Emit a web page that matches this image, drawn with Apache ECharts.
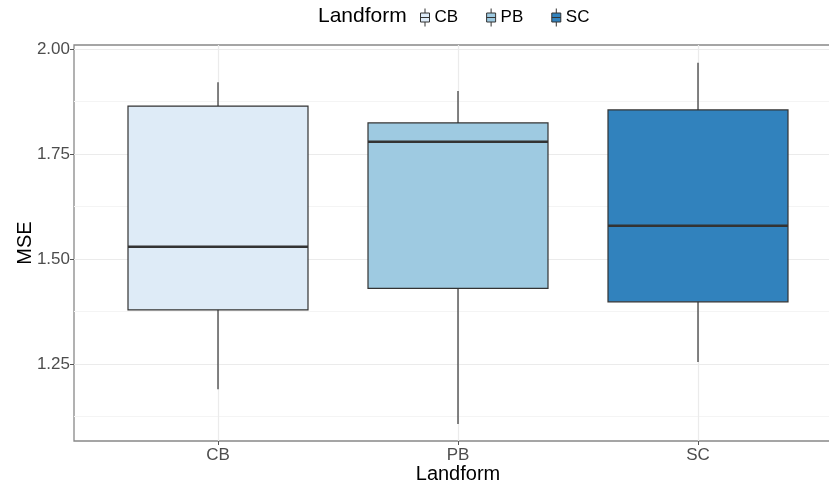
<!DOCTYPE html>
<html>
<head>
<meta charset="utf-8">
<script src="https://cdn.jsdelivr.net/npm/echarts@6/dist/echarts.min.js"></script>
<style>html,body{margin:0;padding:0;background:#fff}#c{width:829px;height:487px}</style>
</head>
<body>
<div id="c"></div>
<script>
const categories = ['CB', 'PB', 'SC'];
const whiskerLow = [1.190, 1.107, 1.255];
const q1Values = [1.379, 1.430, 1.398];
const medians = [1.529, 1.779, 1.579];
const q3Values = [1.864, 1.824, 1.855];
const whiskerHigh = [1.921, 1.900, 1.967];
const fills = ['#deebf7', '#9ecae1', '#3182bd'];
const yTicks = [1.25, 1.5, 1.75, 2.0];
const yMinorTicks = [1.125, 1.375, 1.625, 1.875];

const chart = echarts.init(document.getElementById('c'));
const STROKE = '#333333';

function renderBox(params, api) {
  const x = api.value(0);
  const lo = api.coord([x, api.value(1)]);
  const q1 = api.coord([x, api.value(2)]);
  const med = api.coord([x, api.value(3)]);
  const q3 = api.coord([x, api.value(4)]);
  const hi = api.coord([x, api.value(5)]);
  const half = api.size([0.75, 0])[0] / 2;
  const fill = api.visual('color');
  return {
    type: 'group',
    children: [
      {type: 'line', shape: {x1: lo[0], y1: lo[1], x2: q1[0], y2: q1[1]}, style: {stroke: STROKE, lineWidth: 1.2}},
      {type: 'line', shape: {x1: hi[0], y1: hi[1], x2: q3[0], y2: q3[1]}, style: {stroke: STROKE, lineWidth: 1.2}},
      {type: 'rect', shape: {x: q3[0] - half, y: q3[1], width: half * 2, height: q1[1] - q3[1]}, style: {fill: fill, stroke: STROKE, lineWidth: 1.2}},
      {type: 'line', shape: {x1: med[0] - half, y1: med[1], x2: med[0] + half, y2: med[1]}, style: {stroke: STROKE, lineWidth: 2.6}}
    ]
  };
}

const series = categories.map((c, i) => ({
  name: c,
  type: 'custom',
  renderItem: renderBox,
  clip: false,
  encode: {x: 0, y: [1, 2, 3, 4, 5]},
  itemStyle: {color: fills[i], borderColor: STROKE, borderWidth: 1},
  data: [[i + 1, whiskerLow[i], q1Values[i], medians[i], q3Values[i], whiskerHigh[i]]]
}));

const labelStyle = {color: '#4d4d4d', fontSize: 17, fontFamily: 'Liberation Sans, Arial, sans-serif'};

chart.setOption({
  animation: false,
  backgroundColor: '#ffffff',
  title: {
    text: 'Landform', left: 318, top: 6, padding: 0,
    textStyle: {fontSize: 21, fontWeight: 'normal', color: '#000', fontFamily: 'Liberation Sans, Arial, sans-serif'}
  },
  legend: {
    data: categories, left: 420, top: 8, padding: 0, itemGap: 28,
    itemWidth: 9, itemHeight: 18, symbolKeepAspect: false,
    icon: 'path://M5,0L5,4M0,4L10,4L10,12L0,12ZM0,8L10,8M5,12L5,16',
    itemStyle: {borderColor: STROKE, borderWidth: 1},
    textStyle: {fontSize: 17, color: '#000', fontFamily: 'Liberation Sans, Arial, sans-serif'}
  },
  grid: {left: 74, top: 45, width: 768, height: 396, containLabel: false, outerBoundsMode: 'none',
    show: true, borderColor: '#888', borderWidth: 1.3, backgroundColor: 'transparent'},
  xAxis: {
    type: 'value', min: 0.4, max: 3.6,
    name: 'Landform', nameLocation: 'middle', nameGap: 23, nameMoveOverlap: false,
    nameTextStyle: {fontSize: 20, color: '#000', fontFamily: 'Liberation Sans, Arial, sans-serif'},
    axisLine: {show: false},
    axisTick: {show: true, length: 4, lineStyle: {color: '#555'}, customValues: [1, 2, 3]},
    axisLabel: Object.assign({customValues: [1, 2, 3], margin: 6, formatter: v => categories[Math.round(v) - 1] || ''}, labelStyle),
    splitLine: {show: true, lineStyle: {color: '#ebebeb', width: 1.2}}
  },
  yAxis: [{
    type: 'value', min: 1.0667, max: 2.0095,
    name: 'MSE', nameLocation: 'middle', nameGap: 39, nameRotate: 90, nameMoveOverlap: false,
    nameTextStyle: {fontSize: 20, color: '#000', fontFamily: 'Liberation Sans, Arial, sans-serif'},
    axisLine: {show: false},
    axisTick: {show: true, length: 4, lineStyle: {color: '#555'}, customValues: yTicks},
    axisLabel: Object.assign({customValues: yTicks, margin: 4, formatter: v => v.toFixed(2)}, labelStyle),
    splitLine: {show: true, lineStyle: {color: '#ebebeb', width: 1.2}}
  }, {
    type: 'value', min: 1.0667, max: 2.0095, position: 'left',
    axisLine: {show: false},
    axisTick: {show: false, customValues: yMinorTicks},
    axisLabel: {show: false, customValues: yMinorTicks},
    splitLine: {show: true, lineStyle: {color: '#f4f4f4', width: 1}}
  }],
  series: series
});
</script>
</body>
</html>
